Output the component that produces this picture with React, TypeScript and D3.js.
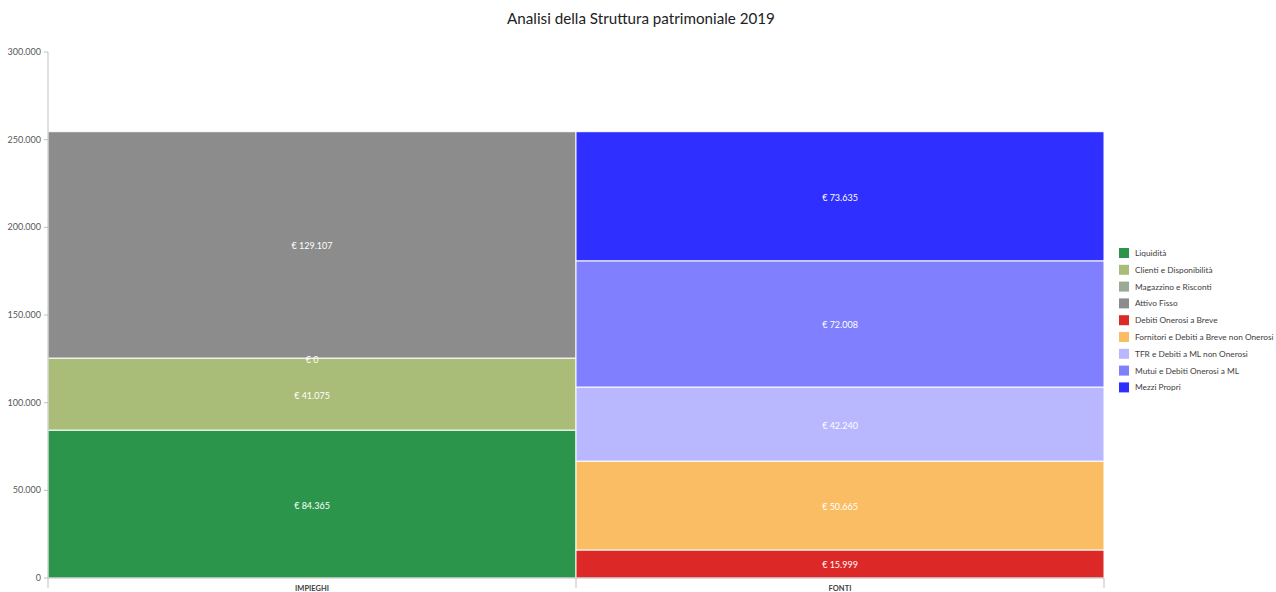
import React from "react";
import * as d3 from "d3";

const categories = ["IMPIEGHI", "FONTI"];
const seriesNames = [
  "Liquidità",
  "Clienti e Disponibilità",
  "Magazzino e Risconti",
  "Attivo Fisso",
  "Debiti Onerosi a Breve",
  "Fornitori e Debiti a Breve non Onerosi",
  "TFR  e Debiti a ML non Onerosi",
  "Mutui e Debiti Onerosi a ML",
  "Mezzi Propri",
];
const seriesColors = [
  "#2b964b",
  "#a9bd78",
  "#9aaa96",
  "#8c8c8c",
  "#dd2828",
  "#fbbd63",
  "#b9b8ff",
  "#8080ff",
  "#2f2fff",
];
// which category each series belongs to
const seriesCategory = [0, 0, 0, 0, 1, 1, 1, 1, 1];
const seriesValues = [84365, 41075, 0, 129107, 15999, 50665, 42240, 72008, 73635];
const yTicks = [0, 50000, 100000, 150000, 200000, 250000, 300000];
const title = "Analisi della Struttura patrimoniale 2019";

const W = 1276;
const H = 592;
const m = { left: 48, right: 172, top: 52, bottom: 14 };

const fmt = (v: number) => d3.format(",")(v).replace(/,/g, ".");

export default function App() {
  const x = d3
    .scaleBand<string>()
    .domain(categories)
    .range([m.left, W - m.right])
    .paddingInner(0)
    .paddingOuter(0);
  const y = d3.scaleLinear().domain([0, 300000]).range([H - m.bottom, m.top]);

  const segs: { i: number; y0: number; y1: number }[] = [];
  const acc = [0, 0];
  seriesValues.forEach((v, i) => {
    const c = seriesCategory[i];
    segs.push({ i, y0: acc[c], y1: acc[c] + v });
    acc[c] += v;
  });

  const font = "Lato, 'Open Sans', 'Liberation Sans', sans-serif";
  const legendY0 = 253;
  const legendStep = 16.8;
  const bw = x.bandwidth();

  return (
    <svg
      width={W}
      height={H}
      style={{ position: "absolute", left: 0, top: 0, background: "#fff" }}
      fontFamily={font}
    >
      <text x={641} y={24} textAnchor="middle" fontSize={15.2} fill="#222">
        {title}
      </text>

      {/* bars */}
      {segs.map((s) => {
        const x0 = x(categories[seriesCategory[s.i]])!;
        const top = y(s.y1);
        const bot = y(s.y0);
        return (
          <rect
            key={s.i}
            x={x0}
            y={top}
            width={bw}
            height={Math.max(0, bot - top)}
            fill={seriesColors[s.i]}
            stroke="#fff"
            strokeWidth={1}
          />
        );
      })}
      {segs.map((s) => {
        const x0 = x(categories[seriesCategory[s.i]])!;
        const top = y(s.y1);
        const bot = y(s.y0);
        return (
          <text
            key={"l" + s.i}
            x={x0 + bw / 2}
            y={(top + bot) / 2 + 4.5}
            textAnchor="middle"
            fontSize={9}
            fill="#fff"
          >
            {"€ " + fmt(seriesValues[s.i])}
          </text>
        );
      })}

      {/* y axis */}
      <line x1={m.left} x2={m.left} y1={m.top} y2={H - m.bottom} stroke="#bfbfbf" />
      {yTicks.map((t) => (
        <g key={t}>
          <line x1={m.left - 4} x2={m.left} y1={y(t)} y2={y(t)} stroke="#bfbfbf" />
          <text x={m.left - 7} y={y(t) + 3} textAnchor="end" fontSize={9} fill="#595959">
            {fmt(t)}
          </text>
        </g>
      ))}

      {/* x axis */}
      <line x1={m.left} x2={W - m.right} y1={y(0)} y2={y(0)} stroke="#bfbfbf" />
      {[...categories.map((c) => x(c)!), W - m.right].map((px, k) => (
        <line key={k} x1={px} x2={px} y1={y(0)} y2={y(0) + 10} stroke="#bfbfbf" />
      ))}
      {categories.map((c) => (
        <text
          key={c}
          x={x(c)! + bw / 2}
          y={y(0) + 13}
          textAnchor="middle"
          fontSize={7.5}
          fontWeight="bold"
          fill="#404040"
        >
          {c}
        </text>
      ))}

      {/* legend */}
      {seriesNames.map((n, i) => (
        <g key={n} transform={`translate(1119,${legendY0 + i * legendStep})`}>
          <rect x={0} y={-5} width={10} height={10} fill={seriesColors[i]} />
          <text x={16} y={3} fontSize={8.3} fill="#404040">
            {n}
          </text>
        </g>
      ))}
    </svg>
  );
}
